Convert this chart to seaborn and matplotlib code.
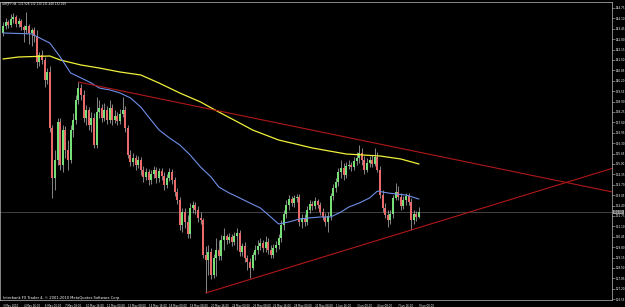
import matplotlib
matplotlib.use("Agg")
import matplotlib.pyplot as plt
import matplotlib.transforms as mtransforms
import seaborn as sns
import numpy as np

# ---------------- data (GBPJPY, H4) ----------------
opens = [143.188,143.625,143.875,143.688,144.063,144.188,143.75,143.938,143.563,143.375,
         143.625,143.188,143.375,143.0,141.375,141.813,141.5,140.25,140.75,137.25,
         134.125,135.25,137.625,134.938,137.125,135.875,135.25,137.125,137.75,139.0,
         139.75,139.313,137.875,138.375,137.438,137.875,136.188,138.25,138.5,137.875,
         138.375,137.75,138.5,137.75,138.0,137.688,138.125,138.375,137.25,135.563,
         135.125,135.375,134.938,135.25,134.625,134.188,134.5,134.0,134.375,134.625,
         134.125,134.563,134.25,133.688,134.125,134.5,134.0,133.25,132.75,131.188,
         132.0,131.375,130.625,132.25,132.438,132.125,131.625,131.5,129.313,129.0,
         129.5,128.063,129.125,129.625,129.25,130.25,130.5,130.25,130.438,130.125,
         130.5,130.688,129.5,129.875,129.125,128.875,128.5,129.313,129.625,129.875,
         130.063,129.75,130.125,129.625,129.313,129.75,129.938,130.375,131.188,131.875,
         132.438,132.813,132.563,132.875,132.938,131.375,131.625,131.375,132.125,132.5,
         132.375,132.688,132.438,132.0,131.688,131.375,131.75,133.0,133.5,133.875,
         134.5,134.75,134.313,134.875,134.938,134.813,135.188,135.375,135.688,135.25,
         134.625,135.063,135.25,135.0,135.438,134.625,133.063,132.25,131.813,131.5,
         131.875,132.875,133.25,132.938,132.375,132.75,133.0,132.625,131.5,131.875,
         131.688]
closes = [143.625,143.875,143.688,144.063,144.188,143.75,143.938,143.563,143.375,143.625,
          143.188,143.375,143.0,141.375,141.813,141.5,140.25,140.75,137.25,134.125,
          135.25,137.625,134.938,137.125,135.875,135.25,137.125,137.75,139.0,139.75,
          139.313,137.875,138.375,137.438,137.875,136.188,138.25,138.5,137.875,138.375,
          137.75,138.5,137.75,138.0,137.688,138.125,138.375,137.25,135.563,135.125,
          135.375,134.938,135.25,134.625,134.188,134.5,134.0,134.375,134.625,134.125,
          134.563,134.25,133.688,134.125,134.5,134.0,133.25,132.75,131.188,132.0,
          131.375,130.625,132.25,132.438,132.125,131.625,131.5,129.313,129.0,129.5,
          128.063,129.125,129.625,129.25,130.25,130.5,130.25,130.438,130.125,130.5,
          130.688,129.5,129.875,129.125,128.875,128.5,129.313,129.625,129.875,130.063,
          129.75,130.125,129.625,129.313,129.75,129.938,130.375,131.188,131.875,132.438,
          132.813,132.563,132.875,132.938,131.375,131.625,131.375,132.125,132.5,132.375,
          132.688,132.438,132.0,131.688,131.375,131.75,133.0,133.5,133.875,134.5,
          134.75,134.313,134.875,134.938,134.813,135.188,135.375,135.688,135.25,134.625,
          135.063,135.25,135.0,135.438,134.625,133.063,132.25,131.813,131.5,131.875,
          132.875,133.25,132.938,132.375,132.75,133.0,132.625,131.5,131.875,131.688,
          132.0]
highs = [143.875,144.125,144.0,144.375,144.438,144.313,144.125,144.063,143.688,144.5,
         143.75,143.5,143.563,143.375,142.0,142.125,141.688,141.0,141.125,137.438,
         135.875,137.875,137.875,137.438,137.375,136.5,137.438,138.188,139.313,140.125,
         140.0,139.625,138.688,138.563,138.25,138.188,139.188,139.0,138.75,138.813,
         138.625,139.0,138.75,138.375,138.25,138.438,139.188,138.625,137.438,135.875,
         135.688,135.563,135.5,135.438,134.875,134.75,134.688,134.625,134.875,134.813,
         134.75,134.75,134.5,134.375,134.75,134.688,134.188,133.5,132.938,132.25,
         132.25,131.813,132.563,132.688,132.625,132.375,132.0,131.625,129.875,129.938,
         129.75,129.375,130.375,130.25,130.563,131.0,130.625,130.688,130.625,130.75,
         131.0,130.875,130.063,130.125,129.313,129.125,129.5,129.938,130.25,130.375,
         130.25,130.5,130.375,129.938,130.0,130.188,130.625,131.5,132.125,132.75,
         133.063,133.0,133.063,133.125,133.125,131.875,131.875,132.375,132.75,132.688,
         132.938,132.813,132.625,132.25,131.938,132.0,133.188,133.75,134.125,134.75,
         135.25,135.063,135.125,135.25,135.125,135.438,135.75,136.188,136.0,135.5,
         135.375,135.5,135.563,136.0,135.75,134.875,133.375,132.563,132.125,132.125,
         133.063,133.813,133.625,133.188,133.0,133.188,133.188,132.875,132.125,132.063,
         132.313]
lows = [143.0,143.438,143.5,143.563,143.813,143.563,143.563,143.375,142.625,143.188,
        142.5,142.375,142.625,141.0,141.125,141.25,139.813,140.0,137.0,132.875,
        133.375,134.938,134.625,134.5,135.375,134.625,135.063,136.688,137.5,138.75,
        139.0,137.625,137.438,137.125,137.0,136.0,136.0,137.875,137.625,137.688,
        137.5,137.563,137.438,137.563,137.438,137.5,137.938,137.0,135.375,134.875,
        134.875,134.625,134.75,134.313,133.875,134.0,133.688,133.75,134.125,133.813,
        133.875,134.0,133.375,133.5,133.938,133.75,133.0,132.5,130.875,130.75,
        131.0,130.375,130.375,131.938,131.875,131.375,131.25,129.125,126.938,128.063,
        127.813,127.875,128.0,129.0,129.0,129.625,130.0,130.063,129.875,129.938,
        129.625,129.25,129.25,128.875,128.375,127.875,128.375,129.0,129.375,129.625,
        129.5,129.5,129.375,129.125,129.125,129.5,129.688,130.125,130.875,131.625,
        132.125,132.375,132.313,132.625,131.125,131.0,131.125,131.188,131.938,132.125,
        132.188,132.25,131.813,131.5,131.125,130.75,131.5,132.75,133.25,133.625,
        134.125,134.0,134.125,134.688,134.563,134.625,134.938,135.063,134.938,134.375,
        134.5,134.813,134.813,134.875,134.5,132.875,132.0,131.625,131.063,131.25,
        131.625,132.75,132.75,132.125,132.188,132.438,132.438,130.875,131.25,131.438,
        131.625]

# moving averages (bar index, price)
ma_blue_bars = [0, 11, 18, 22, 26, 30, 34, 37, 41, 45, 49, 53, 56, 60, 64, 68, 72, 76, 80, 83,
                87, 91, 95, 99, 103, 106, 110, 114, 118, 122, 126, 130, 133, 137, 141, 144,
                148, 151, 155, 160]
ma_blue = [143.19, 143.13, 142.56, 141.69, 140.69, 140.38, 140.06, 139.75, 139.63, 139.44,
           139.13, 138.56, 137.94, 137.13, 136.63, 136.19, 135.56, 134.81, 134.19, 133.56,
           133.19, 132.88, 132.56, 132.25, 131.69, 131.25, 131.38, 131.56, 131.63, 131.69,
           131.69, 132.0, 132.31, 132.56, 132.88, 133.31, 133.19, 133.13, 133.06, 132.81]
ma_yellow_bars = [0, 6, 18, 22, 30, 37, 45, 53, 60, 68, 76, 83, 91, 96, 106, 119, 132, 145, 153, 160]
ma_yellow = [141.563, 141.688, 141.75, 141.5, 141.188, 141.0, 140.75, 140.563, 140.063, 139.438,
             138.875, 138.25, 137.563, 137.125, 136.5, 136.0, 135.625, 135.5, 135.313, 135.0]

# trend lines (anchor bar, price)
trend_upper = [(29, 140.125), (143, 136.31)]
trend_lower = [(78, 126.938), (157, 130.875)]

ytick_vals = [144.75, 144.10, 143.45, 142.80, 142.15, 141.50, 140.85, 140.20, 139.55, 138.90,
              138.25, 137.60, 136.95, 136.30, 135.65, 135.00, 134.35, 133.70, 133.05, 132.40,
              131.75, 131.10, 130.45, 129.80, 129.15, 128.50, 127.85, 127.20, 126.55]
xtick_bars = list(range(0, 161, 8))
xtick_labels = ["3 May 2010", "4 May 16:00", "6 May 00:00", "7 May 08:00", "10 May 16:00",
                "12 May 00:00", "13 May 08:00", "14 May 16:00", "18 May 00:00", "19 May 08:00",
                "20 May 16:00", "24 May 00:00", "25 May 08:00", "26 May 16:00", "28 May 00:00",
                "31 May 08:00", "1 Jun 16:00", "3 Jun 00:00", "4 Jun 08:00", "7 Jun 16:00",
                "9 Jun 00:00"]
title = "GBPJPY,H4  131.928 132.130 131.448 132.029"
copyright_txt = "Interbank FX Trader 4, \u00a9 2001-2010 MetaQuotes Software Corp."

# ---------------- drawing ----------------
sns.set_style("dark")
plt.rcParams['font.family'] = ['DejaVu Sans']

W, H = 625, 307
fig = plt.figure(figsize=(W / 100, H / 100), dpi=100, facecolor='black')
ax = fig.add_axes([0, 7 / H, 612 / W, 298 / H])
ax.set_facecolor('black')

o = np.array(opens); c = np.array(closes); hi = np.array(highs); lo = np.array(lows)
idx = np.arange(len(o))
up = c >= o
green = '#76e076'
red = '#e86a6a'
wick = '#cfcfcf'

ax.vlines(idx, lo, hi, color=wick, lw=0.45, zorder=2)
body_bottom = np.minimum(o, c)
body_h = np.maximum(np.abs(c - o), 0.03)
ax.bar(idx[up], body_h[up], bottom=body_bottom[up], width=0.75, color=green, lw=0, zorder=3)
ax.bar(idx[~up], body_h[~up], bottom=body_bottom[~up], width=0.75, color=red, lw=0, zorder=3)

sns.lineplot(x=ma_yellow_bars, y=ma_yellow, ax=ax, color='#f0f03c', lw=0.9, zorder=4)
sns.lineplot(x=ma_blue_bars, y=ma_blue, ax=ax, color='#6f8fe8', lw=0.8, zorder=4)

xmin, xmax = -3 / 2.6, 609 / 2.6
for (b1, p1), (b2, p2) in (trend_upper, trend_lower):
    slope = (p2 - p1) / (b2 - b1)
    xe = xmax + 5
    sns.lineplot(x=[b1, xe], y=[p1, p1 + slope * (xe - b1)], ax=ax, color='#b01818', lw=0.8, zorder=5)

ax.axhline(closes[-1], color='#5a5a5a', lw=0.5, zorder=1)

ax.set_xlim(xmin, xmax)
ax.set_ylim(145.25 - 300 / 16, 145.25 - 2 / 16)
ax.grid(False)

for s in ax.spines.values():
    s.set_color('#bdbdbd')
    s.set_linewidth(0.5)
    s.set_visible(True)

ax.yaxis.tick_right()
ax.set_yticks(ytick_vals)
ax.set_yticklabels([f"{v:.2f}" for v in ytick_vals])
ax.tick_params(axis='y', colors='#bdbdbd', labelcolor='white', labelsize=1.95,
               length=1.8, width=0.4, pad=0.7, direction='out')
ax.set_xticks(xtick_bars)
ax.set_xticklabels(xtick_labels, ha='left')
ax.tick_params(axis='x', colors='#bdbdbd', labelcolor='white', labelsize=1.9,
               length=2, width=0.4, pad=0.6, direction='out')
ax.set_xlabel(''); ax.set_ylabel('')

trans = mtransforms.blended_transform_factory(ax.transAxes, ax.transData)
ax.text(1.003, closes[-1], f"{closes[-1]:.2f}", transform=trans, fontsize=1.95, color='black',
        va='center', ha='left', bbox=dict(fc='#9a9a9a', ec='none', pad=0.3), clip_on=False)

fig.text(2 / W, 1 - 4.5 / H, title, fontsize=2.0, color='white', va='center', ha='left')
fig.text(3 / W, 1 - 297.5 / H, copyright_txt, fontsize=2.65, color='white', va='center', ha='left')

fig.savefig("out.png", dpi=100, facecolor='black')
